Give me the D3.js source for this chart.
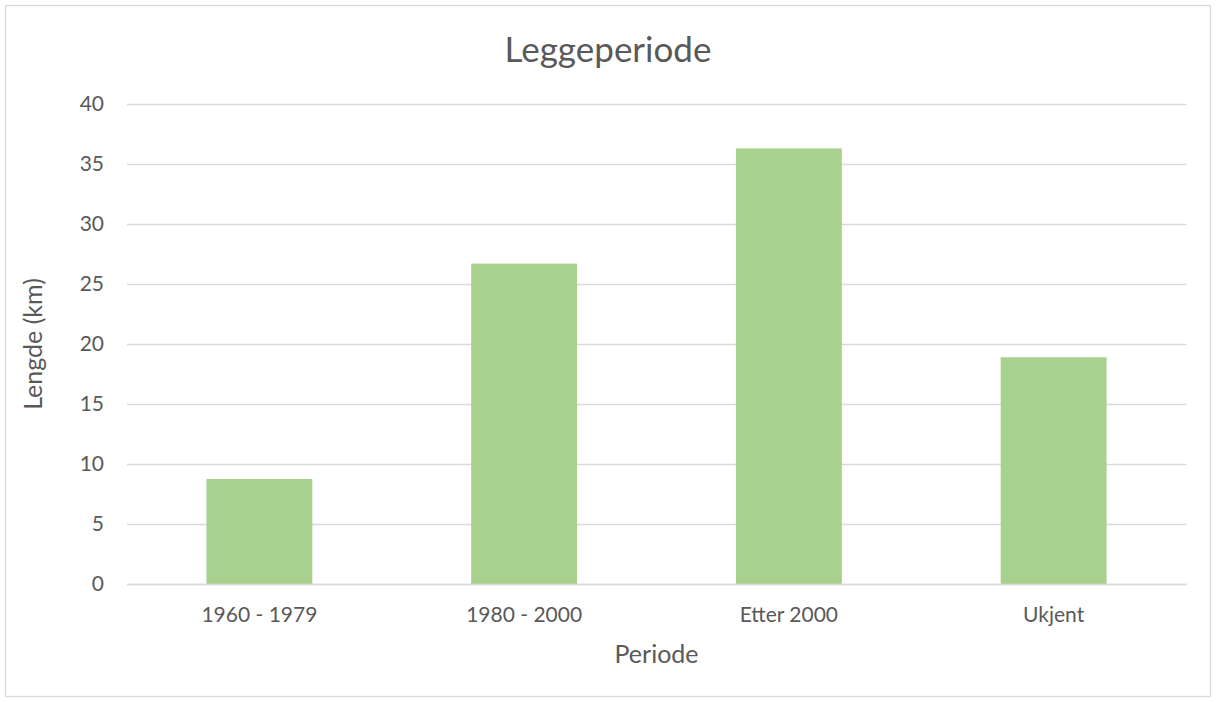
<!DOCTYPE html>
<html>
<head>
<meta charset="utf-8">
<script src="https://cdn.jsdelivr.net/npm/d3@7"></script>
<style>
  body { margin: 0; background: #fff; }
  text { font-family: Lato, "Open Sans", sans-serif; fill: #595959; }
</style>
</head>
<body>
<svg id="chart" width="1216" height="702"></svg>
<script>
// Leggeperiode - lengde per periode
var categories = ["1960 - 1979", "1980 - 2000", "Etter 2000", "Ukjent"];
var lengths = [8.75, 26.7, 36.3, 18.9];
var yTicks = [0, 5, 10, 15, 20, 25, 30, 35, 40];

var svg = d3.select("#chart"),
    width = +svg.attr("width"),
    height = +svg.attr("height");

var margin = {top: 104, right: 30, bottom: 118, left: 127};
var plotW = width - margin.left - margin.right,
    plotH = height - margin.top - margin.bottom;

// chart border
svg.append("rect")
  .attr("x", 5.5).attr("y", 5.5)
  .attr("width", width - 11).attr("height", height - 11)
  .attr("fill", "#fff")
  .attr("stroke", "#d9d9d9")
  .attr("stroke-width", 1.3);

var x = d3.scaleBand()
  .domain(categories)
  .range([0, plotW])
  .paddingInner(0.6)
  .paddingOuter(0.3);

var y = d3.scaleLinear()
  .domain([0, 40])
  .range([plotH, 0]);

var g = svg.append("g")
  .attr("transform", "translate(" + margin.left + "," + margin.top + ")");

// gridlines
var yAxis = d3.axisLeft(y)
  .tickValues(yTicks)
  .tickSize(-plotW)
  .tickPadding(23);

var yg = g.append("g").call(yAxis);
yg.select(".domain").remove();
yg.selectAll(".tick line")
  .attr("stroke", "#d9d9d9")
  .attr("stroke-width", 1.3);
yg.selectAll(".tick text")
  .style("font-size", "21px")
  .attr("fill", "#595959");

// bars
g.selectAll("rect.bar")
  .data(lengths)
  .enter().append("rect")
  .attr("class", "bar")
  .attr("x", function(d, i) { return x(categories[i]); })
  .attr("y", function(d) { return y(d); })
  .attr("width", x.bandwidth())
  .attr("height", function(d) { return plotH - y(d); })
  .attr("fill", "#a9d18e");

// x axis labels
var xAxis = d3.axisBottom(x).tickSize(0).tickPadding(23);
var xg = g.append("g")
  .attr("transform", "translate(0," + plotH + ")")
  .call(xAxis);
xg.select(".domain")
  .attr("stroke", "#d9d9d9")
  .attr("stroke-width", 1.3);
xg.selectAll(".tick text")
  .style("font-size", "21px")
  .attr("fill", "#595959");

// titles
svg.append("text")
  .attr("x", width / 2)
  .attr("y", 62)
  .attr("text-anchor", "middle")
  .style("font-size", "35px")
  .text("Leggeperiode");

svg.append("text")
  .attr("x", margin.left + plotW / 2)
  .attr("y", 663)
  .attr("text-anchor", "middle")
  .style("font-size", "25px")
  .text("Periode");

svg.append("text")
  .attr("transform", "translate(42," + (margin.top + plotH / 2) + ") rotate(-90)")
  .attr("text-anchor", "middle")
  .style("font-size", "25px")
  .text("Lengde (km)");
</script>
</body>
</html>
